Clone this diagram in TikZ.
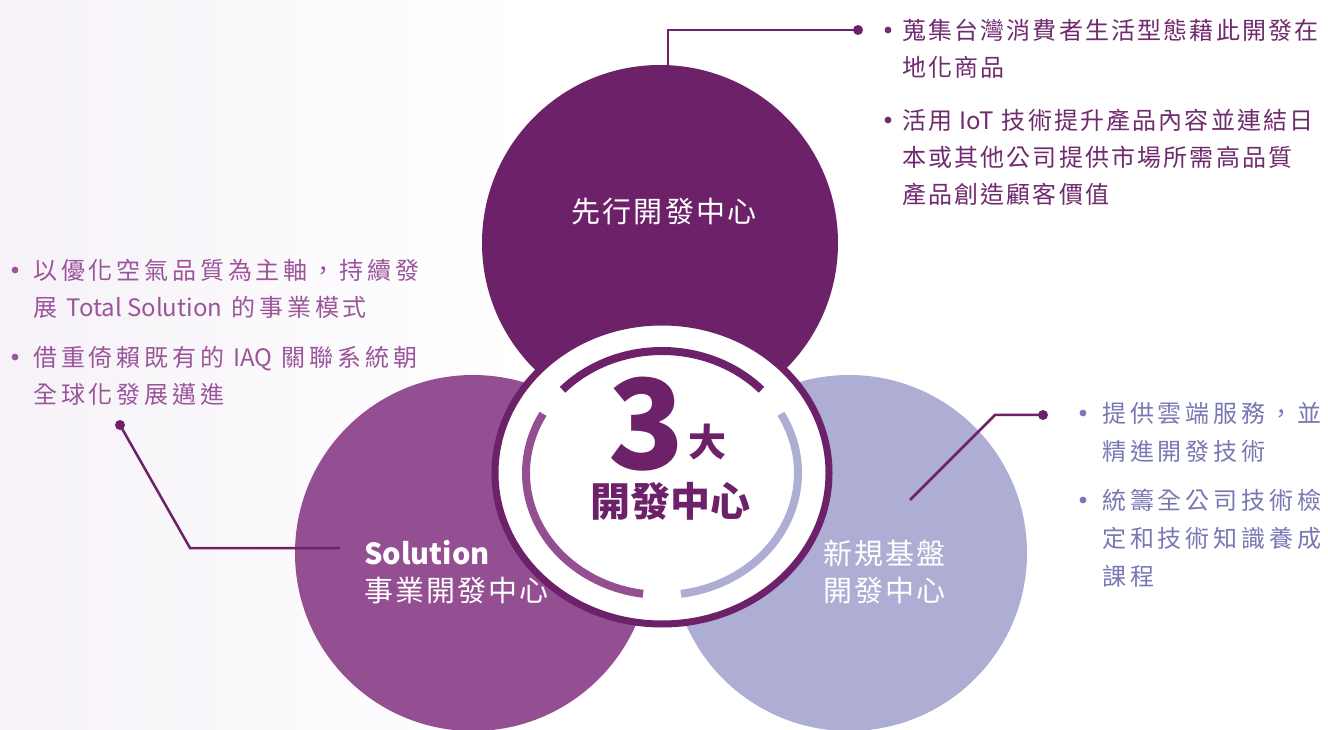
\documentclass[tikz,border=0pt]{standalone}
\usepackage{fontspec}
\usepackage{tikz}
\usetikzlibrary{positioning,calc}
\setmainfont{Noto Sans CJK TC}
\newfontfamily\tcfont{Noto Sans CJK TC}
\newfontfamily\tcwide{Noto Sans CJK TC}[LetterSpace=16]
\newfontfamily\tcmid{Noto Sans CJK TC}[LetterSpace=9]
\newfontfamily\tclabel{Noto Sans CJK TC}[LetterSpace=7]
\definecolor{advpurple}{RGB}{108,33,105}
\definecolor{solpurple}{RGB}{148,79,146}
\definecolor{newlav}{RGB}{174,173,211}
\definecolor{toptext}{RGB}{112,42,110}
\definecolor{lefttext}{RGB}{155,85,155}
\definecolor{righttext}{RGB}{120,120,180}
\definecolor{wash}{RGB}{246,242,248}

\begin{document}
\begin{tikzpicture}[x=1pt,y=1pt,
    blob/.style={circle, minimum size=#1, inner sep=0pt},
    circlabel/.style={text=white, font=\tclabel\fontsize{29}{37}\selectfont, align=left, inner sep=0pt},
    para/.style={anchor=north west, inner sep=0pt, align=left},
    paratop/.style={para, text=toptext, font=\tcmid\fontsize{24}{37}\selectfont},
    paraleft/.style={para, text=lefttext, font=\tcwide\fontsize{24}{37}\selectfont},
    pararight/.style={para, text=righttext, font=\tcwide\fontsize{24}{38}\selectfont},
    link/.style={advpurple, line width=2.5pt},
    arcline/.style={line width=8pt}]
    \useasboundingbox (0,0) rectangle (1328,729);
    \clip (0,0) rectangle (1328,729);
    \fill[white] (0,0) rectangle (1328,729);
    \shade[left color=wash, right color=white] (0,0) rectangle (520,729);

    % Three centres
    \node[blob=356pt, fill=advpurple] (adv) at (660,486) {};
    \node[blob=356pt, fill=solpurple] (sol) at (473,176) {};
    \node[blob=356pt, fill=newlav] (new) at (849,176) {};

    % Middle ring
    \coordinate (hub) at (662,256);
    \draw[advpurple, line width=7pt, fill=white] (hub) ellipse [x radius=167, y radius=151];
    \draw[arcline, advpurple] ([shift={(137:136 and 122)}]hub) arc[start angle=137, end angle=43, x radius=136, y radius=122];
    \draw[arcline, solpurple] ([shift={(151:136 and 122)}]hub) arc[start angle=151, end angle=262, x radius=136, y radius=122];
    \draw[arcline, newlav] ([shift={(29:136 and 122)}]hub) arc[start angle=29, end angle=-82, x radius=136, y radius=122];

    \node[anchor=base, inner sep=0pt, text=advpurple, font=\fontsize{125}{125}\selectfont\bfseries] (num) at (647,259) {3};
    \node[anchor=base west, inner sep=0pt, text=advpurple, font=\fontsize{38}{38}\selectfont\bfseries] (big) at (688,272) {大};
    \node[inner sep=0pt, text=advpurple, font=\fontsize{40}{40}\selectfont\bfseries] (hubtext) at (670,228) {開發中心};

    % Circle labels
    \node[circlabel] (advtext) at (664,517) {先行開發中心};
    \node[circlabel, anchor=west] (soltext) at (364,157) {{\tcfont\bfseries Solution}\\事業開發中心};
    \node[circlabel, anchor=west] (newtext) at (823,157) {新規基盤\\開發中心};

    % Top right notes
    \node[paratop] (tr1) at (902,710) {蒐集台灣消費者生活型態藉此開發在\\地化商品};
    \node[paratop] (tr2) at (902,620) {活用 {\tcfont IoT} 技術提升產品內容並連結日\\本或其他公司提供市場所需高品質\\產品創造顧客價值};
    \fill[toptext] ([shift={(-14,-11)}]tr1.north west) circle (3.4);
    \fill[toptext] ([shift={(-14,-11)}]tr2.north west) circle (3.4);

    % Left notes
    \node[paraleft] (lf1) at (33,470) {以優化空氣品質為主軸，持續發\\展 {\tcfont Total Solution} 的事業模式};
    \node[paraleft] (lf2) at (33,383) {借重倚賴既有的 {\tcfont IAQ} 關聯系統朝\\全球化發展邁進};
    \fill[lefttext] ([shift={(-18,-11)}]lf1.north west) circle (3.4);
    \fill[lefttext] ([shift={(-18,-11)}]lf2.north west) circle (3.4);

    % Right notes
    \node[pararight] (rt1) at (1102,327) {提供雲端服務，並\\精進開發技術};
    \node[pararight] (rt2) at (1102,240) {統籌全公司技術檢\\定和技術知識養成\\課程};
    \fill[righttext] ([shift={(-19,-11)}]rt1.north west) circle (3.4);
    \fill[righttext] ([shift={(-19,-11)}]rt2.north west) circle (3.4);

    % Connectors
    \coordinate (topdot) at (858,699);
    \coordinate (leftdot) at (120,304);
    \coordinate (leftend) at (340,181);
    \coordinate (rightstart) at (910,229);
    \coordinate (rightdot) at (1043,314);
    \draw[link] ([xshift=8pt]adv.north) |- (topdot);
    \draw[link] (leftdot) -- ++(70,-123) -- (leftend);
    \draw[link] (rightstart) -- ++(85,85) -- (rightdot);
    \fill[advpurple] (topdot) circle (5);
    \fill[advpurple] (leftdot) circle (5);
    \fill[advpurple] (rightdot) circle (5);
\end{tikzpicture}
\end{document}
